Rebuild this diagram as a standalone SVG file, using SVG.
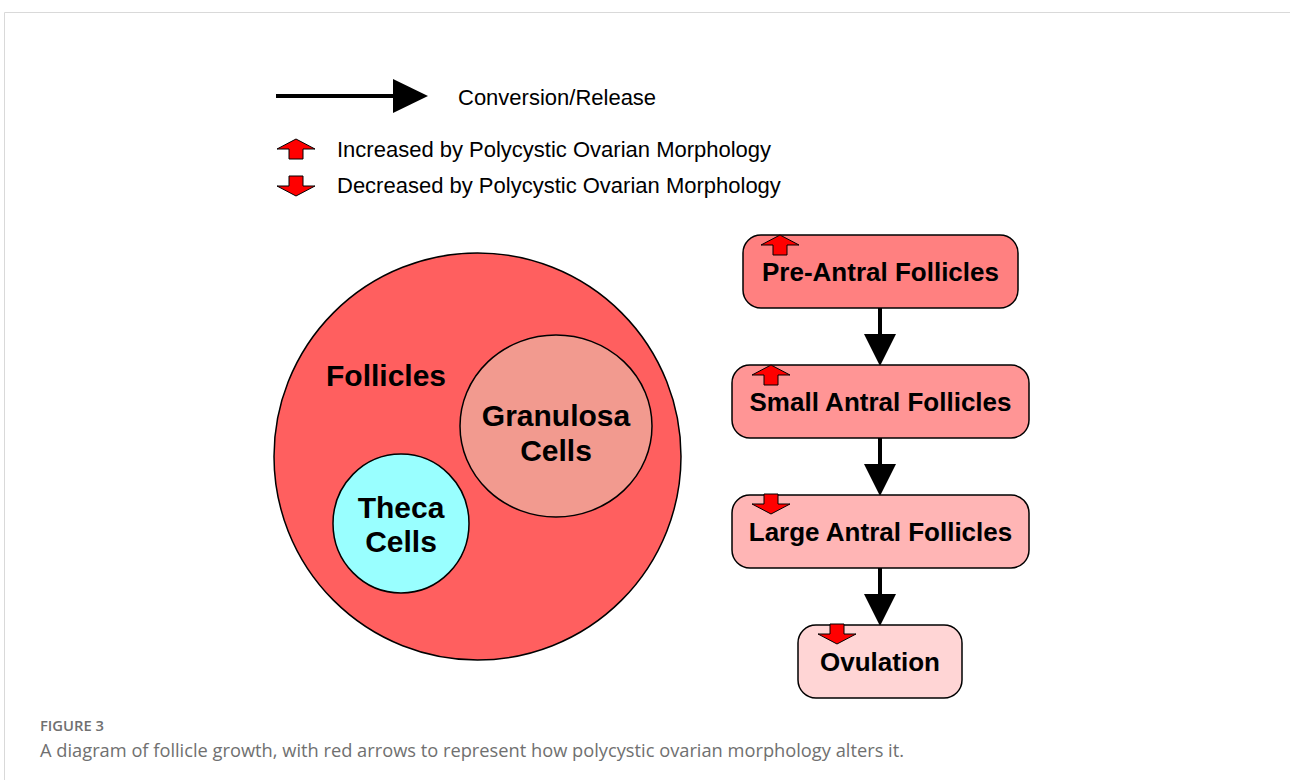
<svg xmlns="http://www.w3.org/2000/svg" width="1290" height="780" viewBox="0 0 1290 780">
  <defs>
    <style>
      .lbl { font-family: "Liberation Sans", Arial, sans-serif; fill: #000; }
      .big { font-size: 30px; font-weight: bold; }
      .box { font-size: 26px; font-weight: bold; }
      .leg { font-size: 22px; }
      .node { stroke: #000; stroke-width: 1.5; }
      .flow { stroke: #000; stroke-width: 4; fill: none; }
      .head { fill: #000; }
      .pcom { fill: #ff0000; stroke: #000; stroke-width: 1; }
      .cap { font-family: "Open Sans", "Liberation Sans", sans-serif; fill: #707070; }
    </style>
    <!-- small red "increased" arrow, origin at tip -->
    <path id="up" d="M0 0 L19 10 L7 10 L7 20 L-7 20 L-7 10 L-19 10 Z"/>
    <!-- small red "decreased" arrow, origin at tip -->
    <path id="down" d="M0 0 L19 -10 L7 -10 L7 -20 L-7 -20 L-7 -10 L-19 -10 Z"/>
  </defs>

  <rect width="1290" height="780" fill="#fff"/>
  <!-- panel frame -->
  <path d="M4.5 780 L4.5 12.5 L1290 12.5" fill="none" stroke="#d9d9d9" stroke-width="1"/>

  <!-- legend -->
  <g id="legend">
    <line x1="276" y1="96" x2="396" y2="96" stroke="#000" stroke-width="4"/>
    <path d="M393 79 L428 96 L393 113 Z" class="head"/>
    <text x="458" y="105" class="lbl leg">Conversion/Release</text>
    <use href="#up" x="296" y="139" class="pcom"/>
    <text x="337" y="157" class="lbl leg">Increased by Polycystic Ovarian Morphology</text>
    <use href="#down" x="296" y="196" class="pcom"/>
    <text x="337" y="193" class="lbl leg">Decreased by Polycystic Ovarian Morphology</text>
  </g>

  <!-- follicle composition -->
  <g id="follicles">
    <circle cx="477.5" cy="456.5" r="203.5" fill="#ff5f5f" class="node"/>
    <text x="326" y="386" class="lbl big">Follicles</text>
  </g>
  <g id="granulosa">
    <ellipse cx="556" cy="426" rx="96" ry="91" fill="#f29a8f" class="node"/>
    <text x="556" y="426" text-anchor="middle" class="lbl big">Granulosa</text>
    <text x="556" y="461" text-anchor="middle" class="lbl big">Cells</text>
  </g>
  <g id="theca">
    <ellipse cx="401" cy="523.5" rx="68" ry="69.5" fill="#99ffff" class="node"/>
    <text x="401" y="518" text-anchor="middle" class="lbl big">Theca</text>
    <text x="401" y="552" text-anchor="middle" class="lbl big">Cells</text>
  </g>

  <!-- connectors -->
  <g id="connectors">
    <line x1="880" y1="308" x2="880" y2="336" class="flow"/>
    <path d="M864 334 L896 334 L880 366 Z" class="head"/>
    <line x1="880" y1="438" x2="880" y2="466" class="flow"/>
    <path d="M864 464 L896 464 L880 496 Z" class="head"/>
    <line x1="880" y1="568" x2="880" y2="596" class="flow"/>
    <path d="M864 594 L896 594 L880 626 Z" class="head"/>
  </g>

  <!-- growth stages -->
  <g id="pre-antral">
    <rect x="743" y="235" width="275" height="73" rx="18" fill="#ff8080" class="node"/>
    <use href="#up" x="780" y="235" class="pcom"/>
    <text x="880.5" y="281" text-anchor="middle" class="lbl box">Pre-Antral Follicles</text>
  </g>
  <g id="small-antral">
    <rect x="732" y="365" width="297" height="73" rx="18" fill="#ff9595" class="node"/>
    <use href="#up" x="771" y="365" class="pcom"/>
    <text x="880.5" y="411" text-anchor="middle" class="lbl box">Small Antral Follicles</text>
  </g>
  <g id="large-antral">
    <rect x="732" y="495" width="297" height="73" rx="18" fill="#ffb5b5" class="node"/>
    <use href="#down" x="771" y="514" class="pcom"/>
    <text x="880.5" y="541" text-anchor="middle" class="lbl box">Large Antral Follicles</text>
  </g>
  <g id="ovulation">
    <rect x="798" y="625" width="164" height="73" rx="18" fill="#ffd5d5" class="node"/>
    <use href="#down" x="837" y="644" class="pcom"/>
    <text x="880" y="671" text-anchor="middle" class="lbl box">Ovulation</text>
  </g>

  <!-- caption -->
  <text x="40" y="731" class="cap" font-size="14" font-weight="600" textLength="64" lengthAdjust="spacingAndGlyphs">FIGURE 3</text>
  <text x="40" y="757" class="cap" font-size="18" textLength="864" lengthAdjust="spacingAndGlyphs">A diagram of follicle growth, with red arrows to represent how polycystic ovarian morphology alters it.</text>
</svg>
